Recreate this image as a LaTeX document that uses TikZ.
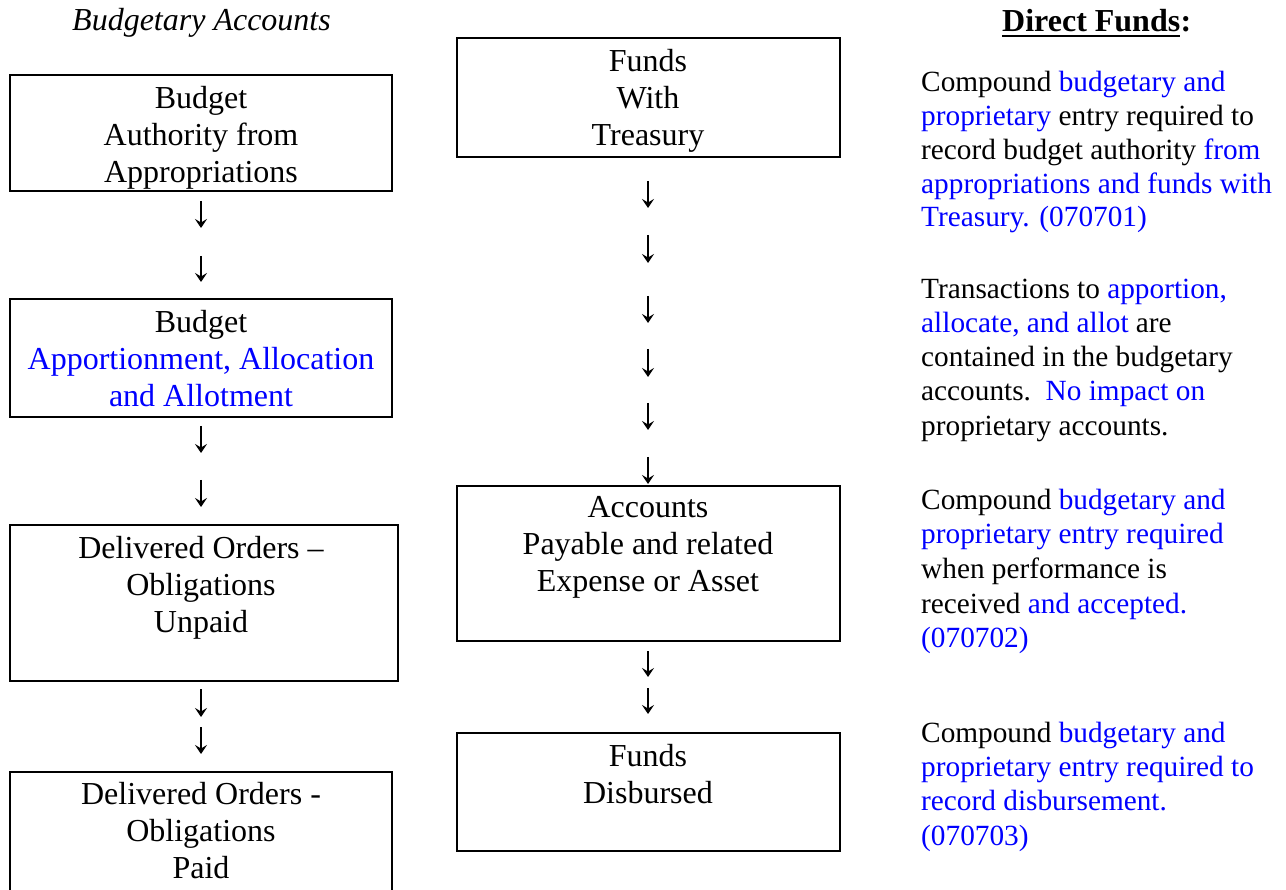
\documentclass[tikz,border=0pt]{standalone}
\usepackage{fontspec}
\usetikzlibrary{arrows.meta}
\setmainfont{Liberation Serif}
\definecolor{fblue}{RGB}{0,0,255}
\newcommand{\hlb}[1]{\textcolor{fblue}{#1}}
\begin{document}
\begin{tikzpicture}[x=1pt,y=-1pt,
  boxshape/.style={draw, line width=2.4pt, rectangle, inner sep=0pt},
  boxtext/.style={font=\fontsize{32}{37}\selectfont, align=center, anchor=base, inner sep=0pt},
  glypharrow/.style={line width=1.7pt, -{Stealth[length=9pt, width=12pt, inset=3.5pt]}},
  note/.style={align=left, anchor=base west, inner sep=0pt},
  heading/.style={inner sep=0pt, anchor=base west}
]
\fill[white] (0,0) rectangle (1286,890);
\useasboundingbox (0,0) rectangle (1286,890);

% headings
\node[heading, font=\fontsize{32}{37}\selectfont\itshape] (lhead) at (72,31) {Budgetary Accounts};
\node[heading, font=\fontsize{32}{37}\selectfont\bfseries] (dfa) at (1002,32) {Direct Funds};
\node[heading, font=\fontsize{32}{37}\selectfont\bfseries] (dfb) at (dfa.base east) {:};
\draw[line width=2.4pt] ([yshift=-4pt]dfa.base west) -- ([yshift=-4pt]dfa.base east);

% left column boxes
\node[boxshape, minimum width=382pt, minimum height=116pt] (b1) at (201,133) {};
\node[boxshape, minimum width=382pt, minimum height=118pt] (b2) at (201,358) {};
\node[boxshape, minimum width=388pt, minimum height=156pt] (b3) at (204,603) {};
\node[boxshape, minimum width=382pt, minimum height=140pt] (b4) at (201,842) {};

\node[boxtext] (b1t) at (201,182.5) {Budget\\Authority from\\Appropriations};
\node[boxtext] (b2t) at (201,406.5) {Budget\\\hlb{Apportionment, Allocation}\\\hlb{and Allotment}};
\node[boxtext] (b3t) at (201,632.5) {Delivered Orders --\\Obligations\\Unpaid};
\node[boxtext] (b4t) at (201,878) {Delivered Orders -\\Obligations\\Paid};

% middle column boxes
\node[boxshape, minimum width=383pt, minimum height=119pt] (m1) at (648.5,97.5) {};
\node[boxshape, minimum width=383pt, minimum height=155pt] (m2) at (648.5,563.5) {};
\node[boxshape, minimum width=383pt, minimum height=118pt] (m3) at (648.5,792) {};

\node[boxtext] (m1t) at (648,145.5) {Funds\\With\\Treasury};
\node[boxtext] (m2t) at (648,591.5) {Accounts\\Payable and related\\Expense or Asset};
\node[boxtext] (m3t) at (648,803) {Funds\\Disbursed};

% arrow glyphs
\foreach \n/\x/\a/\b in {la1/201/201/228, la2/201/256/282, la3/201/426/453, la4/201/480/507,
  la5/201/689/717, la6/201/727/754,
  ma1/648/181/208, ma2/648/235/263, ma3/648/296/323, ma4/648/349/377, ma5/648/403/430,
  ma6/648/457/484, ma7/648/651/677, ma8/648/688/714}{
  \coordinate (\n s) at (\x,\a);
  \coordinate (\n e) at (\x,\b);
  \draw[glypharrow] (\n s) -- (\n e);
}

% right notes
\node[note, font=\fontsize{29.3}{33.7}\selectfont] (p1) at (921,226.8) {Compound \hlb{budgetary and}\\\hlb{proprietary} entry required to\\record budget authority \hlb{from}\\\hlb{appropriations and funds with}\\\hlb{Treasury. (070701)}};
\node[note, font=\fontsize{29.3}{34.3}\selectfont] (p2) at (921,435.2) {Transactions to \hlb{apportion,}\\\hlb{allocate, and allot} are\\contained in the budgetary\\accounts.\ \ \hlb{No impact on}\\proprietary accounts.};
\node[note, font=\fontsize{29.3}{34.7}\selectfont] (p3) at (921,647.8) {Compound \hlb{budgetary and}\\\hlb{proprietary entry required}\\when performance is\\received \hlb{and accepted.}\\\hlb{(070702)}};
\node[note, font=\fontsize{29.3}{34.4}\selectfont] (p4) at (921,845.2) {Compound \hlb{budgetary and}\\\hlb{proprietary entry required to}\\\hlb{record disbursement.}\\\hlb{(070703)}};
\end{tikzpicture}
\end{document}
